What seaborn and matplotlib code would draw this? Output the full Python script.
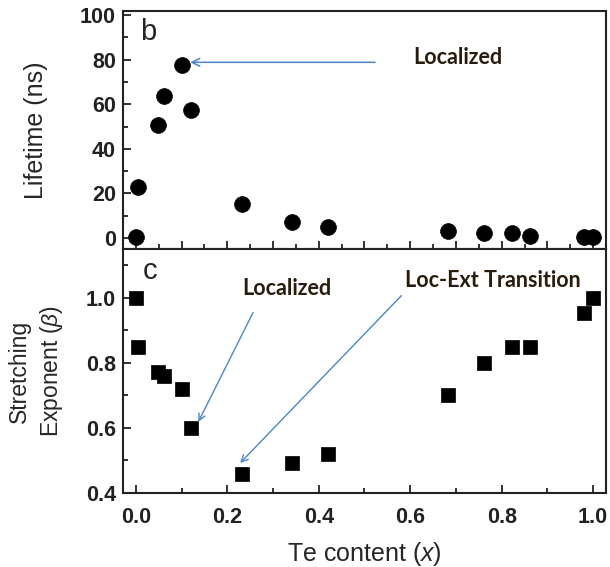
"""Lifetime and stretching exponent versus Te content, two stacked panels."""

import matplotlib
matplotlib.use("Agg")
import matplotlib.pyplot as plt
from matplotlib.ticker import MultipleLocator, NullFormatter
import seaborn as sns
import pandas as pd

# Te content of the samples (shared by both panels)
te_content = [0.0, 0.004, 0.049, 0.062, 0.100, 0.120, 0.232, 0.341, 0.421,
              0.682, 0.761, 0.822, 0.862, 0.981, 1.0]
# panel b: lifetime (ns)
lifetime = [0.3, 23, 50.7, 63.7, 77.6, 57.4, 15.2, 7.3, 5.1,
            3.1, 2.1, 2.1, 0.9, 0.3, 0.3]
# panel c: stretching exponent beta
beta = [1.00, 0.85, 0.772, 0.760, 0.719, 0.599, 0.459, 0.491, 0.519,
        0.70, 0.80, 0.85, 0.85, 0.952, 1.00]

df = pd.DataFrame({"x": te_content, "lifetime": lifetime, "beta": beta})

sns.set_style("ticks")
plt.rcParams['font.family'] = ['Liberation Sans', 'DejaVu Sans']
plt.rcParams['mathtext.fontset'] = 'custom'
plt.rcParams['mathtext.it'] = 'Liberation Sans:italic'

ARROW = '#4a86c8'
NOTE = '#2a1c0c'
NOTE_FONT = ['Lato', 'DejaVu Sans']

fig = plt.figure(figsize=(6.1, 5.67), dpi=100)
ax_b = fig.add_axes([0.2016, 0.5608, 0.7918, 0.4198])
ax_c = fig.add_axes([0.2016, 0.1305, 0.7918, 0.4303])

sns.scatterplot(data=df, x="x", y="lifetime", ax=ax_b, marker='o', s=130,
                color='black', edgecolor='black', linewidth=0.5, legend=False)
sns.scatterplot(data=df, x="x", y="beta", ax=ax_c, marker='s', s=110,
                color='black', edgecolor='black', linewidth=0.5, legend=False)

for ax in (ax_b, ax_c):
    ax.set_xlim(-0.028, 1.028)
    for sp in ax.spines.values():
        sp.set_linewidth(1.5)
        sp.set_color('#222222')
    ax.tick_params(which='both', direction='in', width=1.3, top=False, right=False,
                   colors='#222222')
    ax.tick_params(which='major', length=6, labelsize=15.5)
    ax.tick_params(which='minor', length=3.5)
    ax.tick_params(axis='y', pad=5)

# panel b
ax_b.set_ylim(-4.9, 101.8)
ax_b.yaxis.set_major_locator(MultipleLocator(20))
ax_b.yaxis.set_minor_locator(MultipleLocator(10))
ax_b.xaxis.set_major_locator(MultipleLocator(0.1))
ax_b.xaxis.set_minor_locator(MultipleLocator(0.05))
ax_b.xaxis.set_major_formatter(NullFormatter())
ax_b.set_xlabel('')
ax_b.set_ylabel('Lifetime (ns)', fontsize=18)
ax_b.yaxis.set_label_coords(-0.155, 0.5)
ax_b.text(0.028, 92.5, 'b', fontsize=21, va='center', ha='center')
ax_b.annotate('', xy=(0.113, 78.8), xytext=(0.529, 78.8),
              arrowprops=dict(arrowstyle='->', color=ARROW, lw=1.1,
                              mutation_scale=14))
ax_b.text(0.703, 81, 'Localized', fontsize=15.5, fontweight='bold',
          family=NOTE_FONT, color=NOTE, ha='center', va='center')

# panel c
ax_c.set_ylim(0.4, 1.15)
ax_c.yaxis.set_major_locator(MultipleLocator(0.2))
ax_c.yaxis.set_minor_locator(MultipleLocator(0.1))
ax_c.xaxis.set_major_locator(MultipleLocator(0.2))
ax_c.xaxis.set_minor_locator(MultipleLocator(0.1))
ax_c.xaxis.set_major_formatter(plt.FuncFormatter(lambda v, p: f'{v:.1f}'))
ax_c.yaxis.set_major_formatter(plt.FuncFormatter(lambda v, p: f'{v:.1f}'))
ax_c.tick_params(axis='x', pad=10)
ax_c.set_xlabel('Te content ($\\it{x}$)', fontsize=18, labelpad=9)
ax_c.set_ylabel('Stretching\nExponent ($\\beta$)', fontsize=16.5, linespacing=1.35)
ax_c.yaxis.set_label_coords(-0.12, 0.5)
ax_c.text(0.032, 1.083, 'c', fontsize=21, va='center', ha='center')
ax_c.text(0.33, 1.03, 'Localized', fontsize=15.5, fontweight='bold',
          family=NOTE_FONT, color=NOTE, ha='center', va='center')
ax_c.text(0.78, 1.052, 'Loc-Ext Transition', fontsize=15.5, fontweight='bold',
          family=NOTE_FONT, color=NOTE, ha='center', va='center')
ax_c.annotate('', xy=(0.134, 0.611), xytext=(0.259, 0.962),
              arrowprops=dict(arrowstyle='->', color=ARROW, lw=1.0,
                              mutation_scale=12))
ax_c.annotate('', xy=(0.224, 0.486), xytext=(0.585, 1.013),
              arrowprops=dict(arrowstyle='->', color=ARROW, lw=1.0,
                              mutation_scale=12))

for ax in (ax_b, ax_c):
    for lab in ax.get_xticklabels() + ax.get_yticklabels():
        lab.set_fontweight('bold')

fig.savefig('out.png', dpi=100)
